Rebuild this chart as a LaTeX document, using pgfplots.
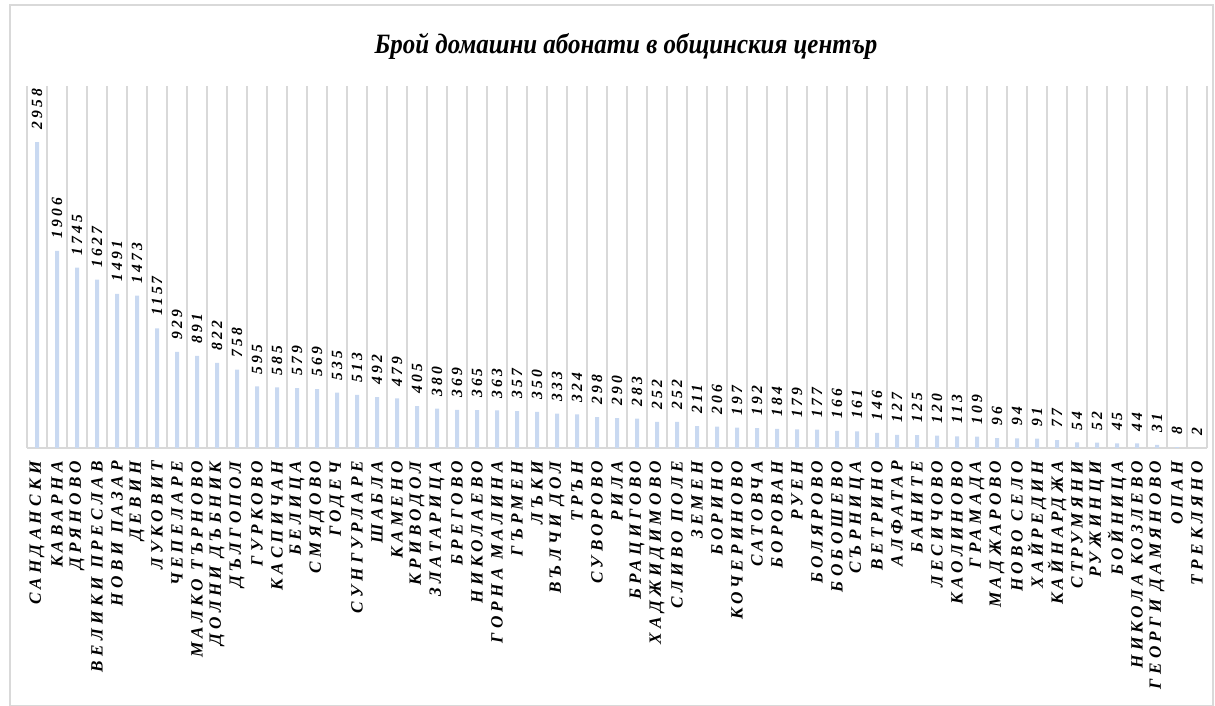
\documentclass[border=0pt]{standalone}
\usepackage{pgfplots}
\pgfplotsset{compat=1.18}
\usepackage{pgfplotstable}
\usepackage{fontspec}
\setmainfont{Liberation Serif}
\newfontfamily\lblfont[LetterSpace=25]{Liberation Serif}
\newfontfamily\valfont[LetterSpace=20]{Liberation Serif}
\definecolor{barblue}{HTML}{C9D9F1}
\definecolor{gridgray}{HTML}{D9D9D9}

% subscribers per municipal centre, in chart order
\pgfplotstableread{
idx val
0 2958
1 1906
2 1745
3 1627
4 1491
5 1473
6 1157
7 929
8 891
9 822
10 758
11 595
12 585
13 579
14 569
15 535
16 513
17 492
18 479
19 405
20 380
21 369
22 365
23 363
24 357
25 350
26 333
27 324
28 298
29 290
30 283
31 252
32 252
33 211
34 206
35 197
36 192
37 184
38 179
39 177
40 166
41 161
42 146
43 127
44 125
45 120
46 113
47 109
48 96
49 94
50 91
51 77
52 54
53 52
54 45
55 44
56 31
57 8
58 2
}\subs

\begin{document}
\begin{tikzpicture}
\useasboundingbox (0,0) rectangle (607.5pt,353pt);
\draw[gridgray, line width=0.6pt] (5pt,0.3pt) rectangle (606.5pt,350.5pt);
\node[font=\bfseries\itshape\fontsize{14}{16}\selectfont, xscale=0.89] at (313pt,330pt)
    {Брой домашни абонати в общинския център};
\begin{axis}[
    at={(13.5pt,129pt)}, anchor=south west,
    scale only axis,
    width=590pt, height=181pt,
    ybar, bar width=2pt,
    xmin=-0.5, xmax=58.5,
    ymin=0, ymax=3500,
    axis x line*=bottom,
    axis y line=none,
    x axis line style={gridgray, line width=0.6pt},
    xtick=data,
    xticklabels={САНДАНСКИ, КАВАРНА, ДРЯНОВО, ВЕЛИКИ ПРЕСЛАВ, НОВИ ПАЗАР, ДЕВИН,
        ЛУКОВИТ, ЧЕПЕЛАРЕ, МАЛКО ТЪРНОВО, ДОЛНИ ДЪБНИК, ДЪЛГОПОЛ, ГУРКОВО,
        КАСПИЧАН, БЕЛИЦА, СМЯДОВО, ГОДЕЧ, СУНГУРЛАРЕ, ШАБЛА, КАМЕНО, КРИВОДОЛ,
        ЗЛАТАРИЦА, БРЕГОВО, НИКОЛАЕВО, ГОРНА МАЛИНА, ГЪРМЕН, ЛЪКИ, ВЪЛЧИ ДОЛ,
        ТРЪН, СУВОРОВО, РИЛА, БРАЦИГОВО, ХАДЖИДИМОВО, СЛИВО ПОЛЕ, ЗЕМЕН,
        БОРИНО, КОЧЕРИНОВО, САТОВЧА, БОРОВАН, РУЕН, БОЛЯРОВО, БОБОШЕВО,
        СЪРНИЦА, ВЕТРИНО, АЛФАТАР, БАНИТЕ, ЛЕСИЧОВО, КАОЛИНОВО, ГРАМАДА,
        МАДЖАРОВО, НОВО СЕЛО, ХАЙРЕДИН, КАЙНАРДЖА, СТРУМЯНИ, РУЖИНЦИ,
        БОЙНИЦА, НИКОЛА КОЗЛЕВО, ГЕОРГИ ДАМЯНОВО, ОПАН, ТРЕКЛЯНО},
    xticklabel style={rotate=90, anchor=east, inner sep=0pt,
        font=\lblfont\bfseries\itshape\fontsize{8.6}{10}\selectfont},
    xticklabel shift=6.5pt,
    minor xtick={-0.5,0.5,...,58.5},
    xminorgrids,
    minor grid style={gridgray, line width=0.6pt},
    major tick length=0pt, minor tick length=0pt,
    clip=false,
    /pgf/number format/.cd, 1000 sep={}, assume math mode=true, /pgfplots/.cd,
    nodes near coords,
    every node near coord/.append style={rotate=90, anchor=west,
        inner xsep=6pt, inner ysep=0pt, text=black,
        font=\valfont\bfseries\itshape\fontsize{7.8}{9}\selectfont},
]
\addplot[draw=none, fill=barblue] table[x=idx, y=val] {\subs};
\end{axis}
\end{tikzpicture}
\end{document}
